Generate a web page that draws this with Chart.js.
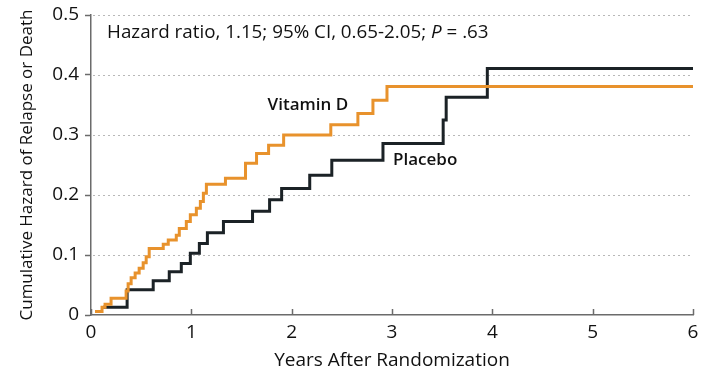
<!DOCTYPE html>
<html>
<head>
<meta charset="utf-8">
<script src="https://cdn.jsdelivr.net/npm/chart.js@4.4.1/dist/chart.umd.min.js"></script>
<style>
  html, body { margin: 0; padding: 0; background: #ffffff; }
  #wrap { width: 706px; height: 372px; }
</style>
</head>
<body>
<div id="wrap"><canvas id="c" width="706" height="372"></canvas></div>
<script>
// Cumulative hazard step curves: time of each event (years) and hazard after it
const vitaminDYears  = [0.04, 0.11, 0.14, 0.20, 0.35, 0.37, 0.40, 0.44, 0.48, 0.52, 0.55, 0.58, 0.72, 0.77, 0.85, 0.88, 0.95, 0.99, 1.05, 1.09, 1.12, 1.15, 1.34, 1.54, 1.65, 1.77, 1.92, 2.39, 2.66, 2.81, 2.95, 6.00];
const vitaminDHazard = [0.006, 0.013, 0.018, 0.028, 0.040, 0.052, 0.062, 0.070, 0.078, 0.087, 0.097, 0.111, 0.118, 0.125, 0.133, 0.144, 0.156, 0.167, 0.178, 0.189, 0.203, 0.218, 0.228, 0.253, 0.269, 0.283, 0.300, 0.317, 0.336, 0.358, 0.381, 0.381];

const placeboYears  = [0.12, 0.36, 0.62, 0.78, 0.90, 0.99, 1.08, 1.16, 1.32, 1.61, 1.78, 1.90, 2.18, 2.40, 2.91, 3.51, 3.54, 3.95, 6.00];
const placeboHazard = [0.013, 0.042, 0.057, 0.072, 0.086, 0.103, 0.119, 0.137, 0.156, 0.173, 0.192, 0.211, 0.233, 0.258, 0.286, 0.325, 0.363, 0.411, 0.411];

const xTickValues = [0, 1, 2, 3, 4, 5, 6];
const yTickValues = [0, 0.1, 0.2, 0.3, 0.4, 0.5];

const seriesNames = ['Vitamin D', 'Placebo'];
const hazardNote = ['Hazard ratio, 1.15; 95% CI, 0.65-2.05; ', 'P', ' = .63'];

const FONT = "'Open Sans', 'Noto Sans', sans-serif";
const ORANGE = '#e8922c';
const DARK = '#1b2226';
const AXIS = '#6b6b6b';

function toPoints(xs, ys) {
  return xs.map((x, i) => ({ x: x, y: ys[i] }));
}

// dotted horizontal guides and x-axis tick marks pointing into the plot
const guides = {
  id: 'guides',
  beforeDatasetsDraw(chart) {
    const { ctx, chartArea, scales } = chart;
    const y = scales.y;
    ctx.save();
    ctx.strokeStyle = '#b8b8b8';
    ctx.lineWidth = 1;
    ctx.setLineDash([2, 3]);
    yTickValues.forEach(v => {
      if (v <= 0) return;
      const py = Math.round(y.getPixelForValue(v)) + 0.5;
      ctx.beginPath();
      ctx.moveTo(chartArea.left + 2, py);
      ctx.lineTo(chartArea.right, py);
      ctx.stroke();
    });
    ctx.restore();
  },
  afterDraw(chart) {
    const { ctx, scales } = chart;
    const x = scales.x;
    const base = scales.y.getPixelForValue(0);
    ctx.save();
    ctx.strokeStyle = AXIS;
    ctx.lineWidth = 1.5;
    xTickValues.forEach(v => {
      const px = Math.round(x.getPixelForValue(v)) + 0.5;
      ctx.beginPath();
      ctx.moveTo(px, base);
      ctx.lineTo(px, base - 6);
      ctx.stroke();
    });
    ctx.restore();
  }
};

// in-plot text: curve names and the hazard ratio note
const plotText = {
  id: 'plotText',
  afterDatasetsDraw(chart) {
    const { ctx, scales } = chart;
    const x = scales.x, y = scales.y;
    ctx.save();
    ctx.fillStyle = '#111111';
    ctx.textBaseline = 'middle';
    ctx.textAlign = 'left';

    ctx.font = `18.8px ${FONT}`;
    let px = x.getPixelForValue(0.16);
    const py = y.getPixelForValue(0.47);
    ctx.fillText(hazardNote[0], px, py);
    px += ctx.measureText(hazardNote[0]).width;
    ctx.font = `italic 18.8px ${FONT}`;
    ctx.fillText(hazardNote[1], px, py);
    px += ctx.measureText(hazardNote[1]).width;
    ctx.font = `18.8px ${FONT}`;
    ctx.fillText(hazardNote[2], px, py);

    ctx.font = `600 17px ${FONT}`;
    ctx.fillText(seriesNames[0], x.getPixelForValue(1.76), y.getPixelForValue(0.35));
    ctx.fillText(seriesNames[1], x.getPixelForValue(3.01), y.getPixelForValue(0.258));
    ctx.restore();
  }
};

new Chart(document.getElementById('c'), {
  type: 'line',
  data: {
    datasets: [
      {
        label: seriesNames[0],
        data: toPoints(vitaminDYears, vitaminDHazard),
        borderColor: ORANGE,
        borderWidth: 3,
        stepped: 'before',
        pointRadius: 0,
        fill: false
      },
      {
        label: seriesNames[1],
        data: toPoints(placeboYears, placeboHazard),
        borderColor: DARK,
        borderWidth: 3,
        stepped: 'before',
        pointRadius: 0,
        fill: false
      }
    ]
  },
  options: {
    responsive: false,
    animation: false,
    layout: { padding: { top: 15, right: 13, bottom: 0, left: 0 } },
    plugins: {
      legend: { display: false },
      tooltip: { enabled: false }
    },
    scales: {
      x: {
        type: 'linear',
        min: 0,
        max: 6,
        afterBuildTicks(scale) { scale.ticks = xTickValues.map(v => ({ value: v })); },
        afterFit(scale) {
          scale.height = 57;
          scale.paddingLeft = 0;
          scale.paddingRight = 0;
        },
        ticks: {
          color: '#111111',
          font: { family: FONT, size: 19 },
          padding: 6,
          maxRotation: 0,
          callback: v => String(v)
        },
        grid: { display: false, drawTicks: false },
        border: { display: true, color: AXIS, width: 1.5 },
        title: {
          display: true,
          text: 'Years After Randomization',
          color: '#111111',
          font: { family: FONT, size: 19 },
          padding: { top: 3, bottom: 0 }
        }
      },
      y: {
        min: 0,
        max: 0.5,
        afterBuildTicks(scale) { scale.ticks = yTickValues.map(v => ({ value: v })); },
        afterFit(scale) {
          scale.width = 91;
          scale.paddingTop = 0;
          scale.paddingBottom = 0;
        },
        ticks: {
          color: '#111111',
          font: { family: FONT, size: 19 },
          padding: 6,
          callback: v => (v === 0 ? '0' : v.toFixed(1))
        },
        grid: {
          drawOnChartArea: false,
          drawTicks: true,
          tickLength: 6,
          tickColor: AXIS,
          tickWidth: 1.5
        },
        border: { display: true, color: AXIS, width: 1.5 },
        title: {
          display: true,
          text: 'Cumulative Hazard of Relapse or Death',
          color: '#111111',
          font: { family: FONT, size: 17 },
          padding: { top: 17, bottom: 0 }
        }
      }
    }
  },
  plugins: [guides, plotText]
});
</script>
</body>
</html>
